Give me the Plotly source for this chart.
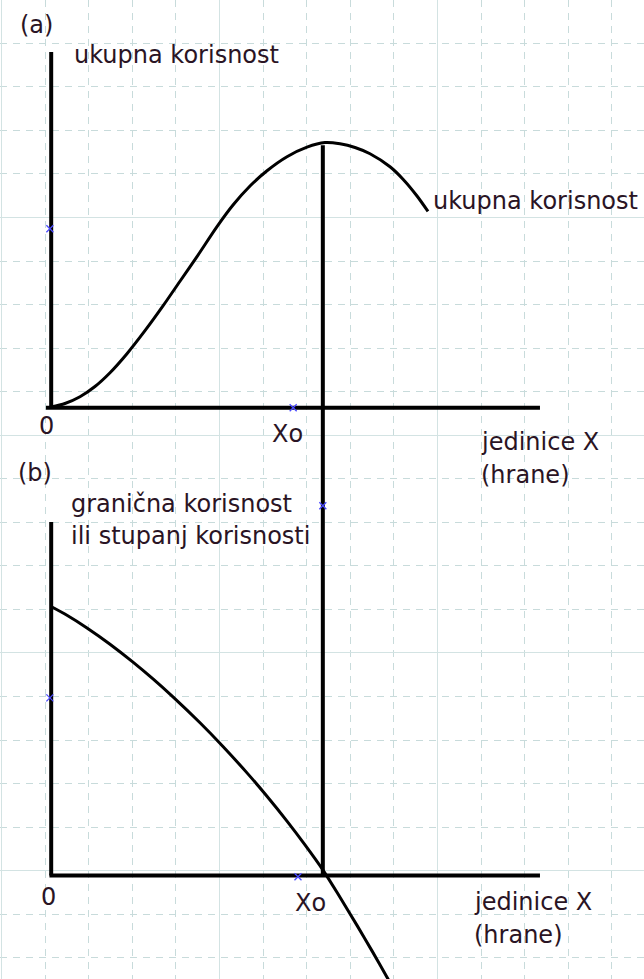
import plotly.graph_objects as go

# everything is in units of the drawing grid (one dashed square = 1)

# (a) total utility
tu_x = [1.135, 1.456, 1.800, 2.144, 2.489, 2.878, 3.291, 3.704, 4.094, 4.484, 4.943, 5.310,
        5.700, 6.090, 6.548, 7.007, 7.420, 7.764, 8.108, 8.452, 8.911, 9.209, 9.530, 9.782]
tu_y = [15.649, 15.729, 15.884, 16.119, 16.436, 16.873, 17.401, 17.970, 18.536, 19.102, 19.791, 20.287,
        20.723, 21.074, 21.396, 21.616, 21.720, 21.692, 21.607, 21.463, 21.164, 20.879, 20.494, 20.140]

# (b) marginal utility
mu_x = [1.158, 1.502, 1.961, 2.489, 3.016, 3.475, 3.933, 4.553, 5.080, 5.631, 6.089, 6.548,
        6.961, 7.374, 7.764, 8.154, 8.498, 8.842, 9.071]
mu_y = [11.056, 10.866, 10.576, 10.202, 9.791, 9.405, 8.992, 8.397, 7.853, 7.247, 6.710, 6.140,
        5.594, 5.015, 4.390, 3.745, 3.160, 2.556, 2.142]

# axes of both panels: [x0, x1], [y0, y1]
axis_a_v = ([1.14, 1.14], [23.80, 15.63])
axis_a_h = ([1.02, 12.35], [15.63, 15.63])
axis_b_v = ([1.14, 1.14], [13.01, 4.89])
axis_b_h = ([1.10, 12.35], [4.89, 4.89])
x0_line = ([7.37, 7.37], [21.66, 4.89])

# little blue points left on the sketch
pts_x = [1.11, 6.69, 7.37, 1.11, 6.80]
pts_y = [19.74, 15.63, 13.38, 8.97, 4.86]

# text labels: (text, x, y, anchor)
labels = [
    ("(a)", 0.80, 24.42, "center"),
    ("ukupna korisnost", 1.62, 23.72, "left"),
    ("ukupna korisnost", 9.84, 20.38, "left"),
    ("0", 1.04, 15.21, "center"),
    ("Xo", 6.57, 15.03, "center"),
    ("jedinice X", 10.95, 14.84, "left"),
    ("(hrane)", 10.95, 14.08, "left"),
    ("(b)", 0.76, 14.14, "center"),
    ("granična korisnost", 1.55, 13.42, "left"),
    ("ili stupanj korisnosti", 1.55, 12.69, "left"),
    ("0", 1.07, 4.40, "center"),
    ("Xo", 7.08, 4.27, "center"),
    ("jedinice X", 10.79, 4.28, "left"),
    ("(hrane)", 10.79, 3.52, "left"),
]

fig = go.Figure()

for xs, ys in [axis_a_v, axis_a_h, axis_b_v, axis_b_h, x0_line]:
    fig.add_trace(go.Scatter(x=xs, y=ys, mode="lines",
                             line=dict(color="black", width=4), hoverinfo="skip"))

fig.add_trace(go.Scatter(x=tu_x, y=tu_y, mode="lines",
                         line=dict(color="black", width=3, shape="spline", smoothing=0.8)))
fig.add_trace(go.Scatter(x=mu_x, y=mu_y, mode="lines",
                         line=dict(color="black", width=3, shape="spline", smoothing=0.8)))

fig.add_trace(go.Scatter(x=pts_x, y=pts_y, mode="markers",
                         marker=dict(symbol="x-thin", size=7, line=dict(color="#4a4aff", width=1.3))))

for txt, x, y, anchor in labels:
    fig.add_annotation(x=x, y=y, text=txt, showarrow=False, xanchor=anchor, yanchor="middle",
                       font=dict(family="DejaVu Sans", size=24, color="#2a1424"))

grid = dict(showgrid=True, gridcolor="#d3e3e3", gridwidth=1, dtick=5, tick0=0,
            showticklabels=False, zeroline=False, showline=False, ticks="",
            minor=dict(dtick=1, tick0=0, showgrid=True, gridcolor="#c8dbdb", gridwidth=1,
                       griddash="7px,6px", ticks=""))

fig.update_layout(
    width=644, height=979,
    margin=dict(l=0, r=0, t=0, b=0),
    paper_bgcolor="white", plot_bgcolor="white",
    showlegend=False,
    xaxis=dict(range=[-0.034, 14.736], fixedrange=True, **grid),
    yaxis=dict(range=[2.514, 24.994], fixedrange=True, **grid),
)

fig.write_html("out.html", config={"displayModeBar": False},
               post_script="document.body.style.margin='0px';")
